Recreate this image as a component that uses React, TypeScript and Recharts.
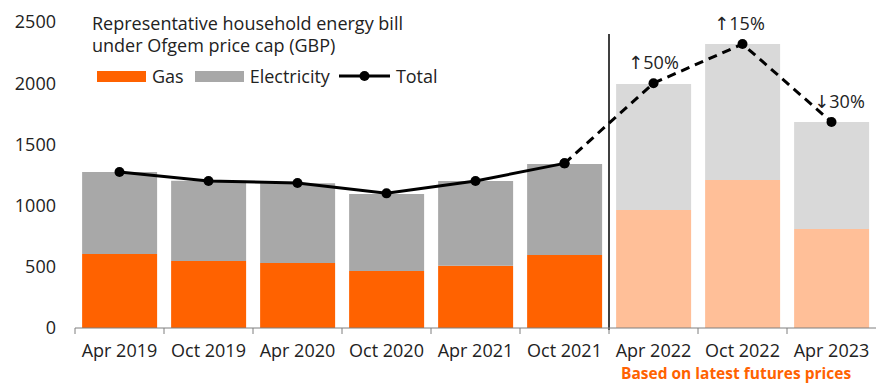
import React from "react";
import {
  ComposedChart,
  Bar,
  Line,
  XAxis,
  YAxis,
  Cell,
  LabelList,
  Legend,
  ReferenceLine,
} from "recharts";

// Ofgem price-cap periods
const periods = [
  "Apr 2019",
  "Oct 2019",
  "Apr 2020",
  "Oct 2020",
  "Apr 2021",
  "Oct 2021",
  "Apr 2022",
  "Oct 2022",
  "Apr 2023",
];

// Bill components (GBP)
const gasBill = [605, 547, 531, 466, 509, 596, 964, 1209, 809];
const electricityBill = [670, 656, 651, 629, 692, 744, 1029, 1111, 874];
const totalBill = [1275, 1201, 1184, 1100, 1201, 1345, 2000, 2320, 1683];

// Period-on-period change for projected caps
const changeLabels = ["", "", "", "", "", "", "↑50%", "↑15%", "↓30%"];

// Index of last published cap; later periods are projections
const LAST_ACTUAL = 5;

const yTicks = [0, 500, 1000, 1500, 2000, 2500];

const COLORS = {
  gas: "#FF6200",
  gasProjected: "#FFBF98",
  electricity: "#A8A8A8",
  electricityProjected: "#D9D9D9",
  total: "#000000",
  text: "#222222",
};

const FONT = "'Open Sans', 'DejaVu Sans', sans-serif";
const W = 876;
const H = 383;
const Y_AXIS_W = 75;
const BAND = (W - Y_AXIS_W) / periods.length;

const data = periods.map((p, i) => ({
  period: p,
  gas: gasBill[i],
  electricity: electricityBill[i],
  actualTotal: i <= LAST_ACTUAL ? totalBill[i] : null,
  projectedTotal: i >= LAST_ACTUAL ? totalBill[i] : null,
  change: changeLabels[i],
}));

const TICK_SIZE = 6;
const TICK_MARGIN = 10;

function PeriodTick(props: any) {
  const { x, y, payload } = props;
  const axisY = y - TICK_SIZE - TICK_MARGIN;
  const left = x - BAND / 2;
  return (
    <g>
      <line x1={left} x2={left} y1={axisY} y2={axisY + TICK_SIZE} stroke="#7f7f7f" strokeWidth={1} />
      <text
        x={x}
        y={y}
        dy="0.71em"
        textAnchor="middle"
        fontFamily={FONT}
        fontSize={18}
        fill={COLORS.text}
      >
        {payload.value}
      </text>
    </g>
  );
}

// Divider drawn on the boundary before the first projected period
function SplitLine(props: any) {
  const { x1, y1, y2 } = props;
  const x = x1 - BAND / 2;
  return <line x1={x} x2={x} y1={y1 + 2} y2={y2 + 12} stroke="#000" strokeWidth={1.5} />;
}

// Change labels sit just above each projected point
function ChangeLabel(props: any) {
  const { x, y, width, value, index } = props;
  if (!value) return null;
  const shift = index === 8 ? 8 : index === 7 ? -3 : 0;
  return (
    <text
      x={x + (width || 0) / 2 + shift}
      y={y - 14}
      textAnchor="middle"
      fontFamily={FONT}
      fontSize={18}
      fill={COLORS.text}
    >
      {value}
    </text>
  );
}

function LegendBlock() {
  const item = { display: "flex", alignItems: "center" } as const;
  return (
    <div style={{ fontFamily: FONT, fontSize: 18, color: COLORS.text, lineHeight: "22px" }}>
      <div>Representative household energy bill</div>
      <div>under Ofgem price cap (GBP)</div>
      <div style={{ display: "flex", alignItems: "center", marginTop: 9, marginLeft: 5 }}>
        <div style={item}>
          <span style={{ width: 49, height: 11, background: COLORS.gas, display: "inline-block", marginRight: 6 }} />
          <span>Gas</span>
        </div>
        <div style={{ ...item, marginLeft: 11 }}>
          <span style={{ width: 49, height: 11, background: COLORS.electricity, display: "inline-block", marginRight: 6 }} />
          <span>Electricity</span>
        </div>
        <div style={{ ...item, marginLeft: 9 }}>
          <svg width={51} height={12} style={{ marginRight: 6 }}>
            <line x1={0} x2={51} y1={6} y2={6} stroke="#000" strokeWidth={3} />
            <circle cx={25.5} cy={6} r={5} fill="#000" />
          </svg>
          <span>Total</span>
        </div>
      </div>
    </div>
  );
}

export default function App() {
  return (
    <div style={{ position: "absolute", left: 0, top: 0, width: W, height: H, overflow: "hidden", background: "#fff" }}>
      <ComposedChart
        width={W}
        height={H}
        data={data}
        margin={{ top: 22, right: 0, bottom: 0, left: 0 }}
        barCategoryGap="8%"
      >
        <XAxis
          dataKey="period"
          height={55}
          interval={0}
          tickLine={false}
          tickSize={TICK_SIZE}
          tickMargin={TICK_MARGIN}
          axisLine={{ stroke: "#7f7f7f", strokeWidth: 1 }}
          tick={<PeriodTick />}
        />
        <YAxis
          width={Y_AXIS_W}
          domain={[0, 2500]}
          ticks={yTicks}
          interval={0}
          axisLine={false}
          tickLine={false}
          tickMargin={13}
          tick={{ fontFamily: FONT, fontSize: 18, fill: COLORS.text }}
        />
        <ReferenceLine x={periods[LAST_ACTUAL + 1]} ifOverflow="visible" shape={<SplitLine />} />
        <Legend
          layout="horizontal"
          verticalAlign="middle"
          align="center"
          wrapperStyle={{ left: 92, top: 12, width: 420 }}
          content={() => <LegendBlock />}
        />
        <Bar dataKey="gas" stackId="bill" isAnimationActive={false}>
          {data.map((_, i) => (
            <Cell key={i} fill={i > LAST_ACTUAL ? COLORS.gasProjected : COLORS.gas} />
          ))}
        </Bar>
        <Bar dataKey="electricity" stackId="bill" isAnimationActive={false}>
          {data.map((_, i) => (
            <Cell key={i} fill={i > LAST_ACTUAL ? COLORS.electricityProjected : COLORS.electricity} />
          ))}
        </Bar>
        <Line
          dataKey="actualTotal"
          stroke={COLORS.total}
          strokeWidth={3}
          dot={{ r: 5, fill: COLORS.total, stroke: COLORS.total, strokeWidth: 0 }}
          activeDot={false}
          connectNulls={false}
          isAnimationActive={false}
        />
        <Line
          dataKey="projectedTotal"
          stroke={COLORS.total}
          strokeWidth={3}
          strokeDasharray="9 6"
          dot={{ r: 5, fill: COLORS.total, stroke: COLORS.total, strokeWidth: 0 }}
          activeDot={false}
          connectNulls={false}
          isAnimationActive={false}
        >
          <LabelList dataKey="change" content={<ChangeLabel />} />
        </Line>
      </ComposedChart>
      <div
        style={{
          position: "absolute",
          left: 621,
          top: 362,
          fontFamily: FONT,
          fontWeight: 700,
          fontSize: 15.5,
          lineHeight: "normal",
          color: COLORS.gas,
          whiteSpace: "nowrap",
        }}
      >
        Based on latest futures prices
      </div>
    </div>
  );
}
